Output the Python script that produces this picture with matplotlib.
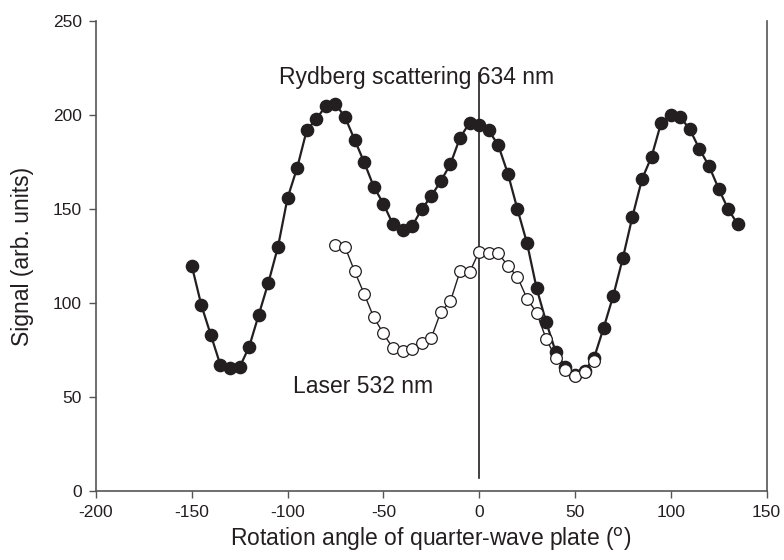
import numpy as np
import matplotlib.pyplot as plt

plt.rcParams['font.family'] = ['Liberation Sans', 'DejaVu Sans']
plt.rcParams['axes.unicode_minus'] = False

# rotation angles (deg) and signals
angle_ryd = np.arange(-150, 136, 5)
signal_ryd = [120, 99, 83, 67, 65.5, 66, 77, 94, 111, 130,
              156, 172, 192, 198, 205, 206, 199, 187, 175, 162,
              153, 142, 139, 141, 150, 157, 165, 174, 188, 196,
              195, 192, 184, 169, 150, 132, 108, 90, 74, 66,
              62, 64, 71, 87, 104, 124, 146, 166, 178, 196,
              200, 199, 192.5, 182, 173, 161, 150, 142]

angle_laser = np.arange(-75, 61, 5)
signal_laser = [131, 130, 117, 105, 92.5, 84, 76, 74.5, 75.5, 79,
                81.5, 95.5, 101, 117, 116.5, 127.5, 126.5, 126.5, 120, 114,
                102.5, 95, 81, 71, 64.5, 61.5, 63.5, 69.5]

ink = '#231f20'
spine_col = '#555555'

fig = plt.figure(figsize=(7.84, 5.6), dpi=100)
ax = fig.add_axes([0.1224, 0.1227, 0.8553, 0.8393])

ax.plot(angle_ryd, signal_ryd, '-o', color=ink, lw=1.6, ms=8.8,
        markerfacecolor=ink, markeredgecolor=ink, zorder=3)
ax.plot(angle_laser, signal_laser, '-o', color=ink, lw=1.0, ms=8.4,
        markerfacecolor='white', markeredgecolor=ink, markeredgewidth=0.9, zorder=4)

# reference line at zero rotation
ax.plot([0, 0], [7, 222.5], color=ink, lw=1.2, zorder=2)

ax.text(-32.5, 220, 'Rydberg scattering 634 nm', ha='center', va='center',
        fontsize=16.5, color=ink)
ax.text(-60.5, 56, 'Laser 532 nm', ha='center', va='center',
        fontsize=16.5, color=ink)

ax.set_xlim(-200, 150)
ax.set_ylim(0, 250)
ax.set_xticks(np.arange(-200, 151, 50))
ax.set_yticks(np.arange(0, 251, 50))

ax.spines['top'].set_visible(False)
for s in ['left', 'right', 'bottom']:
    ax.spines[s].set_color(spine_col)
    ax.spines[s].set_linewidth(1.2)
ax.tick_params(direction='out', length=5, width=1, color=spine_col,
               labelsize=12.5, labelcolor=ink, pad=5)

ax.set_xlabel('Rotation angle of quarter-wave plate ($^{\\mathrm{o}}$)',
              fontsize=16.5, color=ink, va='center')
ax.set_ylabel('Signal (arb. units)', fontsize=16.5, color=ink, va='center')
ax.xaxis.set_label_coords(0.5, -0.103)
ax.yaxis.set_label_coords(-0.109, 0.5)

fig.savefig('out.png', dpi=100)
